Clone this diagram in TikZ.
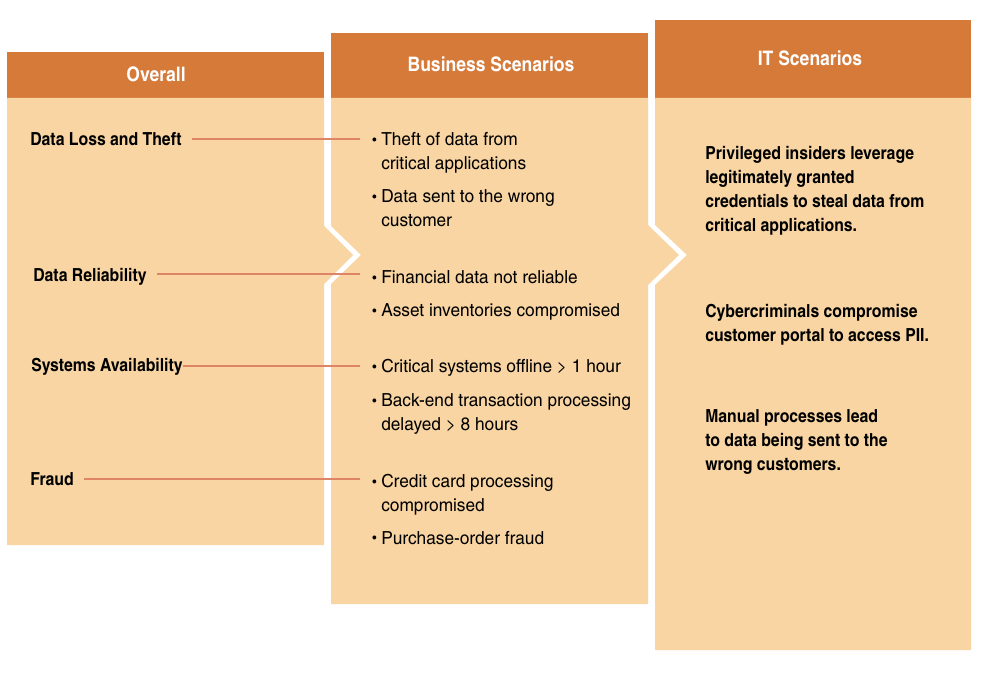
\documentclass[tikz,border=0pt]{standalone}
\usepackage{fontspec}
\setmainfont{texgyreheroscn-regular.otf}[BoldFont=texgyreheroscn-bold.otf, UprightFeatures={FakeStretch=1.17}, BoldFeatures={FakeStretch=1.07}]
\definecolor{hdr}{HTML}{D67A3A}
\definecolor{bodyc}{HTML}{F8D5A2}
\definecolor{conn}{HTML}{DE8467}
\tikzset{
  hdrbox/.style={fill=hdr, draw=none},
  bodybox/.style={fill=bodyc, draw=none},
  hdrtext/.style={text=white, font=\bfseries\fontsize{15pt}{17pt}\selectfont, anchor=base, inner sep=0pt},
  lab/.style={font=\bfseries\fontsize{13.5pt}{18pt}\selectfont, anchor=base west, inner sep=0pt},
  item/.style={font=\fontsize{13.5pt}{18pt}\selectfont, anchor=base west, inner sep=0pt, align=left},
  ittext/.style={font=\bfseries\fontsize{13.5pt}{18pt}\selectfont, anchor=base west, inner sep=0pt, align=left},
  link/.style={draw=conn, line width=1.5pt},
}
\newcommand{\bul}{\makebox[6.75pt][l]{\raisebox{0.9pt}{\scalebox{0.7}{\textbullet}}}}
\newcommand{\ind}{\hspace*{6.75pt}}
\begin{document}
\begin{tikzpicture}[x=0.75pt, y=-0.75pt]
\useasboundingbox (0,0) rectangle (1000,673);
% Overall column
\fill[hdrbox] (7,52) rectangle (324,98);
\fill[bodybox] (7,98) -- (324,98) -- (324,226) -- (353,255) -- (324,284) -- (324,545) -- (7,545) -- cycle;
% Business column
\fill[hdrbox] (331,33) rectangle (648,98);
\fill[bodybox] (331,98) -- (648,98) -- (648,225) -- (679,255) -- (648,285) -- (648,604) -- (331,604) -- (331,284) -- (361,255) -- (331,226) -- cycle;
% IT column
\fill[hdrbox] (655,20) rectangle (971,98);
\fill[bodybox] (655,98) -- (971,98) -- (971,650) -- (655,650) -- (655,285) -- (687,255) -- (655,225) -- cycle;

% headers
\node[hdrtext] (h1) at (156,82) {Overall};
\node[hdrtext] (h2) at (491,72) {Business Scenarios};
\node[hdrtext] (h3) at (810,66) {IT Scenarios};

% left labels
\node[lab] (l1) at (30,146) {Data Loss and Theft};
\node[lab] (l2) at (33,282) {Data Reliability};
\node[lab] (l3) at (31,372) {Systems Availability};
\node[lab] (l4) at (30,486) {Fraud};

% business items (multi-line nodes placed at the baseline of their last line)
\node[item] (b1) at (372,170) {\bul Theft of data from\\\ind critical applications};
\node[item] (b2) at (372,227) {\bul Data sent to the wrong\\\ind customer};
\node[item] (b3) at (372,284) {\bul Financial data not reliable};
\node[item] (b4) at (372,317) {\bul Asset inventories compromised};
\node[item] (b5) at (372,373) {\bul Critical systems offline > 1 hour};
\node[item] (b6) at (372,431) {\bul Back-end transaction processing\\\ind delayed > 8 hours};
\node[item] (b7) at (372,512) {\bul Credit card processing\\\ind compromised};
\node[item] (b8) at (372,544) {\bul Purchase-order fraud};

% IT texts
\node[ittext] (i1) at (705,232) {Privileged insiders leverage\\legitimately granted\\credentials to steal data from\\critical applications.};
\node[ittext] (i2) at (705,342) {Cybercriminals compromise\\customer portal to access PII.};
\node[ittext] (i3) at (705,471) {Manual processes lead\\to data being sent to the\\wrong customers.};

% connectors
\coordinate (e1) at (360,139);
\coordinate (e2) at (360,274);
\coordinate (e3) at (360,366);
\coordinate (e4) at (360,479);
\draw[link] ([xshift=7.5pt]l1.east |- e1) -- (e1);
\draw[link] ([xshift=7.5pt]l2.east |- e2) -- (e2);
\draw[link] (l3.east |- e3) -- (e3);
\draw[link] ([xshift=7.5pt]l4.east |- e4) -- (e4);
\end{tikzpicture}
\end{document}
